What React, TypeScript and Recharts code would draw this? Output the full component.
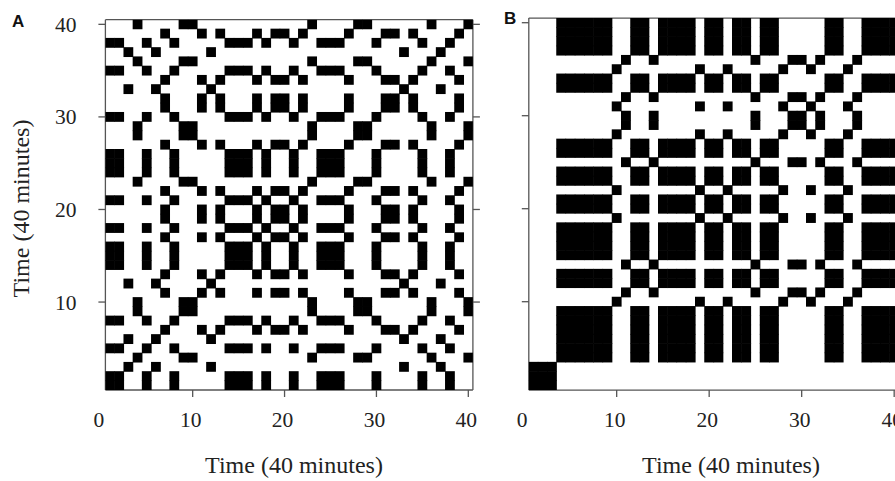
import React from 'react';
import { ScatterChart, Scatter, XAxis, YAxis } from 'recharts';

// Tick labels
const xTickValues = [0, 10, 20, 30, 40];
const yTickValues = [10, 20, 30, 40];
const frameTickValues = [10, 20, 30, 40];

// Panel A: row patterns (columns 1..40, '1' = black cell)
const A_P = '1100100100' + '0001110100' + '1001110001' + '0000100100';
const A_Q = '0001000011' + '0000000000' + '0010000110' + '0000010001';
const A_R = '0000001000' + '1010001011' + '0100001000' + '1101000010';
const A_S = '0010010000' + '0100000000' + '0000000000' + '0010001000';
// rows listed from top (time 40) to bottom (time 1)
const panelARows = [
  A_Q, A_R, A_P, A_S, A_Q, A_P, A_R, A_S, A_R, A_R,
  A_P, A_Q, A_Q, A_R, A_P, A_P, A_P, A_Q, A_R, A_P,
  A_R, A_R, A_P, A_R, A_P, A_P, A_P, A_R, A_S, A_R,
  A_Q, A_Q, A_P, A_R, A_S, A_P, A_Q, A_S, A_P, A_P,
];

// Panel B: row patterns
const B_A = '1110000000' + '0000000000' + '0000000000' + '0000000000';
const B_B = '0001111110' + '0110111101' + '1011011000' + '0011001111';
const B_C = '0000000001' + '0000000010' + '0100000100' + '1000100000';
const B_D = '0000000000' + '1001000000' + '0000100011' + '0100010000';
const panelBRows = [
  B_B, B_B, B_B, B_B, B_D, B_C, B_B, B_B, B_D, B_C,
  B_D, B_D, B_C, B_B, B_B, B_D, B_B, B_B, B_C, B_B,
  B_B, B_C, B_B, B_B, B_B, B_B, B_D, B_B, B_B, B_D,
  B_C, B_B, B_B, B_B, B_B, B_B, B_B, B_A, B_A, B_A,
];

const FONT = "'Liberation Serif', 'Times New Roman', serif";
const TEXT_FILL = '#222';
const FRAME = '#555';

function cellsFromRows(rows: string[]) {
  const out: { x: number; y: number }[] = [];
  rows.forEach((row, r) => {
    for (let c = 0; c < row.length; c++) {
      if (row[c] === '1') out.push({ x: c + 1, y: rows.length - r });
    }
  });
  return out;
}

type PanelProps = {
  left: number;
  plotLeft: number;
  plotRight: number;
  plotTop: number;
  plotBottom: number;
  rows: string[];
  showYLabels: boolean;
};

const W = 480;
const H = 481;

function Panel({ left, plotLeft, plotRight, plotTop, plotBottom, rows, showYLabels }: PanelProps) {
  const topH = 10;
  const rightW = 5;
  const yAxisW = plotLeft - left;
  const pl = yAxisW;
  const pr = plotRight - left;
  const pt = plotTop;
  const pb = plotBottom;
  const cw = (plotRight - plotLeft) / 40;
  const ch = (plotBottom - plotTop) / 40;
  const data = cellsFromRows(rows);
  const margin = { top: plotTop - topH, right: left + W - plotRight - rightW, bottom: 0, left: 0 };
  const axisLine = { stroke: FRAME, strokeWidth: 1.3 };
  const tl = 7;

  const BottomTick = (props: any) => {
    const x = props.x;
    const v = props.payload.value;
    return (
      <g>
        {v > 0 && <line x1={x} x2={x} y1={pb} y2={pb + tl} stroke={FRAME} strokeWidth={1.3} />}
        <text x={x - 2} y={pb + 36.5} textAnchor="middle" fontFamily={FONT} fontSize={21.5} fill={TEXT_FILL}>
          {v}
        </text>
      </g>
    );
  };
  const TopTick = (props: any) => (
    <line x1={props.x} x2={props.x} y1={pt} y2={pt - tl} stroke={FRAME} strokeWidth={1.3} />
  );
  const LeftTick = (props: any) => {
    const y = props.y;
    return (
      <g>
        <line x1={pl - tl} x2={pl} y1={y} y2={y} stroke={FRAME} strokeWidth={1.3} />
        {showYLabels && (
          <text x={pl - 29} y={y} dy="0.35em" textAnchor="end" fontFamily={FONT} fontSize={21.5} fill={TEXT_FILL}>
            {props.payload.value}
          </text>
        )}
      </g>
    );
  };
  const RightTick = (props: any) => (
    <line x1={pr} x2={pr + tl} y1={props.y} y2={props.y} stroke={FRAME} strokeWidth={1.3} />
  );

  const Cell = (props: any) => {
    const { cx, cy } = props;
    if (cx == null || cy == null) return <g />;
    return <rect x={cx - cw / 2 - 0.3} y={cy - ch / 2 - 0.3} width={cw + 0.6} height={ch + 0.6} fill="#000" />;
  };

  return (
    <div style={{ position: 'absolute', left, top: 0 }}>
      <ScatterChart width={W} height={H} margin={margin}>
        <XAxis
          xAxisId="b"
          orientation="bottom"
          type="number"
          dataKey="x"
          domain={[0.5, 40.5]}
          allowDataOverflow
          ticks={xTickValues}
          interval={0}
          height={H - plotBottom}
          axisLine={axisLine}
          tickLine={false}
          tick={BottomTick}
        />
        <XAxis
          xAxisId="t"
          orientation="top"
          type="number"
          domain={[0.5, 40.5]}
          allowDataOverflow
          ticks={frameTickValues}
          interval={0}
          height={topH}
          axisLine={axisLine}
          tickLine={false}
          tick={TopTick}
        />
        <YAxis
          yAxisId="l"
          orientation="left"
          type="number"
          dataKey="y"
          domain={[0.5, 40.5]}
          allowDataOverflow
          ticks={yTickValues}
          interval={0}
          width={yAxisW}
          axisLine={axisLine}
          tickLine={false}
          tick={LeftTick}
        />
        <YAxis
          yAxisId="r"
          orientation="right"
          type="number"
          domain={[0.5, 40.5]}
          allowDataOverflow
          ticks={frameTickValues}
          interval={0}
          width={rightW}
          axisLine={axisLine}
          tickLine={false}
          tick={RightTick}
        />
        <Scatter data={data} xAxisId="b" yAxisId="l" isAnimationActive={false} shape={Cell} />
      </ScatterChart>
    </div>
  );
}

export default function App() {
  return (
    <div style={{ position: 'absolute', left: 0, top: 0, width: 895, height: 481, overflow: 'hidden', background: '#fff' }}>
      <Panel left={0} plotLeft={105.4} plotRight={472.9} plotTop={19.7} plotBottom={390} rows={panelARows} showYLabels={true} />
      <Panel left={424} plotLeft={528.8} plotRight={898.8} plotTop={18.05} plotBottom={390.05} rows={panelBRows} showYLabels={false} />
      <svg style={{ position: 'absolute', left: 0, top: 0 }} width={895} height={481} pointerEvents="none">
        <text x={12} y={27} fontFamily="'Liberation Sans', Arial, sans-serif" fontWeight="bold" fontSize={17} fill="#111">A</text>
        <text x={504} y={24} fontFamily="'Liberation Sans', Arial, sans-serif" fontWeight="bold" fontSize={17} fill="#111">B</text>
        <text x={294} y={472.5} textAnchor="middle" fontFamily={FONT} fontSize={24} fill={TEXT_FILL}>Time (40 minutes)</text>
        <text x={731} y={472.5} textAnchor="middle" fontFamily={FONT} fontSize={24} fill={TEXT_FILL}>Time (40 minutes)</text>
        <text transform="translate(29,208.5) rotate(-90)" textAnchor="middle" fontFamily={FONT} fontSize={24} fill={TEXT_FILL}>Time (40 minutes)</text>
      </svg>
    </div>
  );
}
